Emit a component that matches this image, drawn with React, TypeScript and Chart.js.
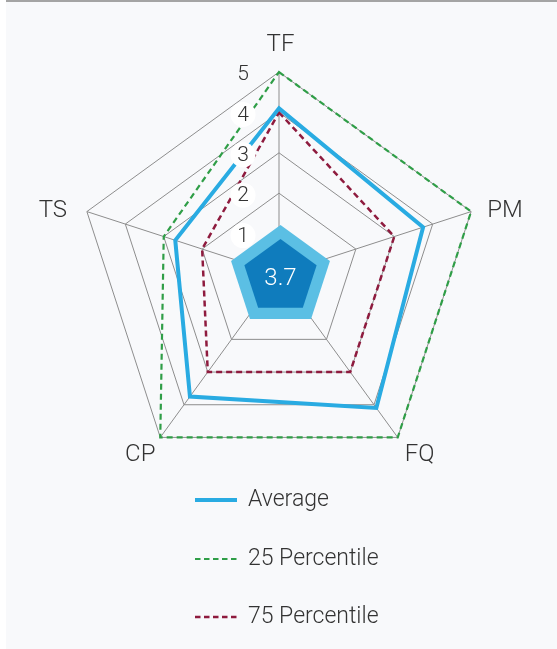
import React, { useEffect, useRef } from 'react';
import { Chart, registerables } from 'chart.js';

Chart.register(...registerables);

// ---- data ----
const categories = ['TF', 'PM', 'FQ', 'CP', 'TS'];
const averageValues = [4.1, 3.75, 4.1, 3.75, 2.7];
const p25Values = [5, 5, 5, 5, 3];
const p75Values = [4, 3, 3, 3, 2];
const tickValues = [1, 2, 3, 4, 5];
const seriesNames = ['Average', '25 Percentile', '75 Percentile'];
const overallScore = 3.7;

// ---- styles ----
const FONT = 'Roboto, "Open Sans", sans-serif';
const TEXT = '#333333';
const GRID = '#8d8d8d';
const BLUE = '#29abe2';
const GREEN = '#2f9e47';
const MAROON = '#8e1b3e';
const LIGHT_BADGE = '#5bbfe4';
const DARK_BADGE = '#0f7cbd';
const labelOffsets = [
  [1.5, -28],
  [34, -2],
  [22, 17],
  [-20, 17],
  [-34, -2],
];

const decorPlugin = {
  id: 'decor',
  afterDatasetsDraw(chart: any) {
    const scale = chart.scales.r;
    const ctx = chart.ctx as CanvasRenderingContext2D;
    const cx = scale.xCenter;
    const cy = scale.yCenter;
    const n = categories.length;
    ctx.save();
    // center badge
    const poly = (r: number, color: string) => {
      ctx.beginPath();
      for (let i = 0; i < n; i++) {
        const p = scale.getPointPosition(i, r);
        const x = p.x + 1.5;
        const y = p.y + 3;
        if (i === 0) ctx.moveTo(x, y);
        else ctx.lineTo(x, y);
      }
      ctx.closePath();
      ctx.fillStyle = color;
      ctx.fill();
    };
    poly(52, LIGHT_BADGE);
    poly(38, DARK_BADGE);
    ctx.fillStyle = '#ffffff';
    ctx.font = `300 24px ${FONT}`;
    ctx.textAlign = 'center';
    ctx.textBaseline = 'middle';
    ctx.fillText(String(overallScore), cx + 1.5, cy + 5);

    // tick labels with round backdrops
    ctx.font = `300 21px ${FONT}`;
    tickValues.forEach((v) => {
      const p = scale.getPointPositionForValue(0, v);
      const x = p.x - 36;
      const y = p.y + 2;
      ctx.beginPath();
      ctx.arc(x, y, 12.5, 0, Math.PI * 2);
      ctx.fillStyle = v === 5 ? '#f8f9fb' : '#ffffff';
      ctx.fill();
      ctx.fillStyle = TEXT;
      ctx.fillText(String(v), x, y + 1);
    });

    // point labels
    ctx.font = `300 24px ${FONT}`;
    categories.forEach((c, i) => {
      const p = scale.getPointPositionForValue(i, scale.max);
      ctx.fillStyle = TEXT;
      ctx.fillText(c, p.x + labelOffsets[i][0], p.y + labelOffsets[i][1] + 1);
    });

    // legend
    const lx = 189;
    const rows = [497, 556, 614];
    ctx.font = `300 23px ${FONT}`;
    ctx.textAlign = 'left';
    chart.data.datasets.forEach((ds: any, i: number) => {
      const y = rows[i];
      ctx.beginPath();
      ctx.setLineDash(ds.borderDash ? [5.5, 3.5] : []);
      ctx.lineWidth = ds.borderWidth;
      ctx.strokeStyle = ds.borderColor;
      ctx.moveTo(lx, y + 1);
      ctx.lineTo(lx + 42, y + 1);
      ctx.stroke();
      ctx.setLineDash([]);
      ctx.fillStyle = TEXT;
      ctx.fillText(ds.label, lx + 53, y + 1);
    });
    ctx.restore();
  },
};

export default function App() {
  const ref = useRef<HTMLCanvasElement>(null);
  useEffect(() => {
    const chart = new Chart(ref.current!, {
      type: 'radar',
      data: {
        labels: categories,
        datasets: [
          {
            label: seriesNames[0],
            data: averageValues,
            borderColor: BLUE,
            borderWidth: 4,
            pointRadius: 0,
            fill: false,
            backgroundColor: 'transparent',
          },
          {
            label: seriesNames[1],
            data: p25Values,
            borderColor: GREEN,
            borderWidth: 2.2,
            borderDash: [6, 4],
            pointRadius: 0,
            fill: false,
            backgroundColor: 'transparent',
          },
          {
            label: seriesNames[2],
            data: p75Values,
            borderColor: MAROON,
            borderWidth: 2.5,
            borderDash: [6, 4],
            pointRadius: 0,
            fill: false,
            backgroundColor: 'transparent',
          },
        ],
      },
      options: {
        animation: false,
        responsive: false,
        layout: { padding: { left: 71, right: 75, top: 70, bottom: 173 } },
        plugins: { legend: { display: false }, tooltip: { enabled: false } },
        elements: { line: { tension: 0 } },
        scales: {
          r: {
            min: 0,
            max: 5,
            ticks: { display: false, stepSize: 1 },
            pointLabels: { display: false },
            grid: { color: GRID, lineWidth: 1 },
            angleLines: { color: GRID, lineWidth: 1 },
          },
        },
      },
      plugins: [decorPlugin],
    } as any);
    return () => chart.destroy();
  }, []);

  return (
    <div style={{ position: 'absolute', left: 0, top: 0, width: 557, height: 649, background: '#ffffff', overflow: 'hidden' }}>
      <div
        style={{
          position: 'absolute',
          left: 6,
          top: 0,
          width: 551,
          height: 649,
          background: '#f8f9fb',
          borderTop: '2px solid #a4a4a4',
          boxSizing: 'border-box',
        }}
      >
        <canvas ref={ref} width={551} height={647} style={{ display: 'block' }} />
      </div>
    </div>
  );
}
